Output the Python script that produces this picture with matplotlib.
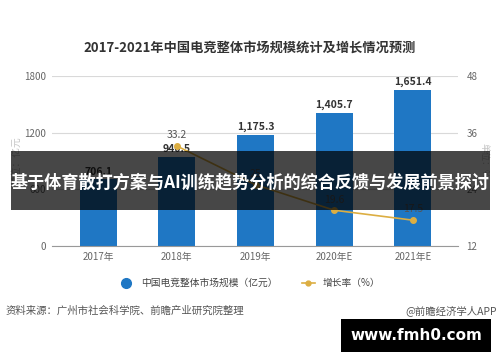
import numpy as np
import matplotlib.pyplot as plt
from matplotlib.patches import Rectangle
from matplotlib.lines import Line2D

plt.rcParams['font.family'] = ['Noto Sans CJK SC', 'DejaVu Sans']

years = ['2017年', '2018年', '2019年', '2020年E', '2021年E']
market = [706.1, 940.5, 1175.3, 1405.7, 1651.4]
growth_years = [1, 2, 3, 4]
growth = [33.2, 25, 19.6, 17.5]
growth_labels = ['33.2', '25', '19.6', '17.5']

bar_color = '#1f77c4'
line_color = '#dcae42'
grid_color = '#d9d9d9'
tick_color = '#666666'

fig = plt.figure(figsize=(5, 3.62), dpi=100)
ax = fig.add_axes([0.104, 0.320, 0.812, 0.470])
x = np.arange(len(years))

ax.bar(x, market, width=0.47, color=bar_color, zorder=2)
for xi, v in zip(x, market):
    ax.text(xi, v + 30, f'{v:,.1f}', ha='center', va='bottom', fontsize=7.5,
            fontweight='bold', color='#333333', zorder=5)

ax.set_xlim(-0.586, 4.573)
ax.set_ylim(0, 1800)
ax.set_yticks([0, 600, 1200, 1800])
ax.set_xticks(x)
ax.set_xticklabels(years)
ax.yaxis.grid(True, color=grid_color, linewidth=0.8, zorder=0)
ax.set_axisbelow(True)
for s in ['top', 'left', 'right']:
    ax.spines[s].set_visible(False)
ax.spines['bottom'].set_color('#999999')
ax.tick_params(axis='both', length=0, labelsize=7, colors=tick_color, pad=4)
ax.set_ylabel('单位：亿元', fontsize=7, color='#c4c4c4', labelpad=2)

ax2 = ax.twinx()
ax2.set_ylim(12, 48)
ax2.set_yticks([12, 24, 36, 48])
for s in ['top', 'left', 'right', 'bottom']:
    ax2.spines[s].set_visible(False)
ax2.tick_params(axis='y', length=0, labelsize=7, colors=tick_color, pad=6)
ax2.plot(growth_years, growth, color=line_color, linewidth=1.2, marker='o',
         markersize=4, zorder=4)
for xi, v, lab in zip(growth_years, growth, growth_labels):
    ax2.text(xi, v + 1.2, lab, ha='center', va='bottom', fontsize=7.5,
             color='#555555', zorder=5)
ax2.set_ylabel('单位：%', fontsize=6.5, color='#c4c4c4', rotation=-90, labelpad=8)

fig.text(0.5, 0.867, '2017-2021年中国电竞整体市场规模统计及增长情况预测',
         ha='center', va='center', fontsize=9.5, fontweight='bold', color='#333333')

# legend
handles = [Line2D([], [], color=bar_color, marker='o', linestyle='none', markersize=7),
           Line2D([], [], color=line_color, marker='o', markersize=3.5, linewidth=1.2)]
fig.legend(handles, ['中国电竞整体市场规模（亿元）', '增长率（%）'], loc='center',
           bbox_to_anchor=(0.5, 0.218), ncol=2, frameon=False, fontsize=7,
           handlelength=1.4, columnspacing=2.5, labelcolor='#444444')

fig.text(0.012, 0.143, '资料来源：广州市社会科学院、前瞻产业研究院整理',
         ha='left', va='center', fontsize=7.5, color='#555555')
fig.text(0.994, 0.143, '@前瞻经济学人APP', ha='right', va='center',
         fontsize=7.5, color='#555555')

# overlay banner
fig.patches.append(Rectangle((0.022, 0.420), 0.958, 0.163, transform=fig.transFigure,
                             facecolor='#000000', alpha=0.72, zorder=10))
fig.text(0.501, 0.497, '基于体育散打方案与AI训练趋势分析的综合反馈与发展前景探讨',
         ha='center', va='center', fontsize=12.3, fontweight='bold', color='white',
         zorder=11)

fig.patches.append(Rectangle((0.682, 0.028), 0.300, 0.091, transform=fig.transFigure,
                             facecolor='#000000', zorder=10))
fig.text(0.832, 0.073, 'www.fmh0.com', ha='center', va='center', fontsize=11,
         fontweight='bold', color='white', family='DejaVu Sans', zorder=11)

fig.savefig('out.png', dpi=100)
